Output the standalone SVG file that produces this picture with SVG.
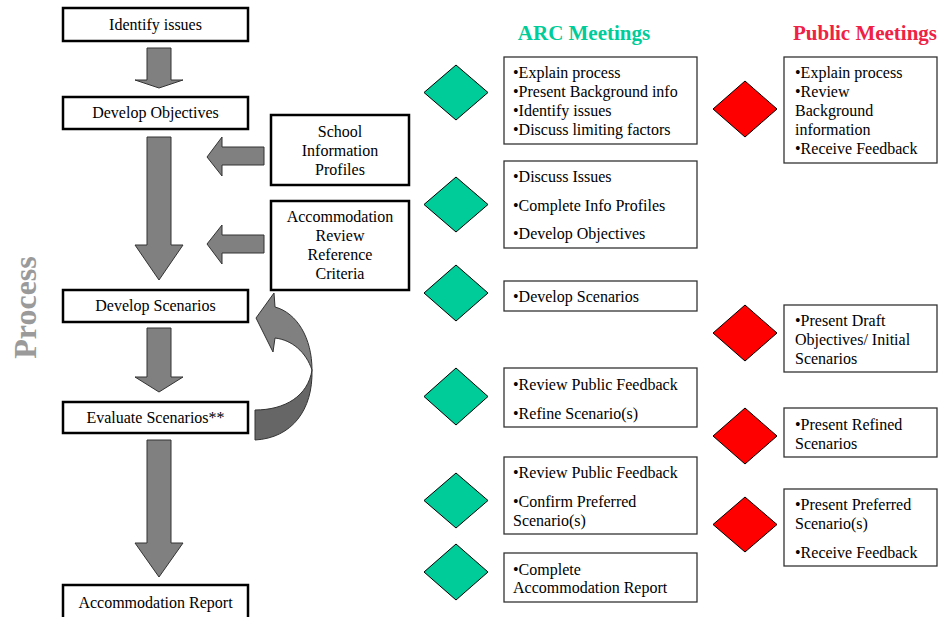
<svg xmlns="http://www.w3.org/2000/svg" width="939" height="617" viewBox="0 0 939 617">
<style>
text{font-family:"Liberation Serif","Times New Roman",serif;font-size:16px;fill:#000}
.c{text-anchor:middle}
.step{fill:#fff;stroke:#000;stroke-width:2.5}
.info{fill:#fff;stroke:#333;stroke-width:1.3}
.arrow{fill:#808080;stroke:#333;stroke-width:1}
.g{fill:#00CC99;stroke:#000;stroke-width:1}
.r{fill:#FF0000;stroke:#000;stroke-width:1}
.title{font-size:21px;font-weight:bold}
</style>
<rect width="939" height="617" fill="#fff"/>

<text transform="translate(36,307.5) rotate(-90)" class="c" style="font-size:32px;font-weight:bold;fill:#9a9a9a">Process</text>

<g id="connectors">
  <path class="arrow" d="M147,48 H171 V80 H183 L159,88 L135,80 H147 Z"/>
  <path class="arrow" d="M147,137 H171 V245 H183 L159,280 L135,245 H147 Z"/>
  <path class="arrow" d="M147,328 H171 V377 H183 L159,392 L135,377 H147 Z"/>
  <path class="arrow" d="M147,440 H171 V543 H183 L159,577 L135,543 H147 Z"/>
  <path class="arrow" d="M264,147 V165 H222 V176 L207,157 L222,137 V147 Z"/>
  <path class="arrow" d="M264,235 V253 H222 V264 L207,244 L222,225 V235 Z"/>
  <path fill="#808080" stroke="#333" stroke-width="1" d="M256,318 L274,293 L275,307 C297,313 312,338 312,370 C306,352 292,340 275,338 L273,352 Z"/>
  <path fill="#666" stroke="#333" stroke-width="1" d="M312,370 C313,410 292,438 255,440 L255,410 C285,410 308,396 312,370 Z"/>
</g>

<g id="identify-issues"><rect class="step" x="63" y="8" width="185" height="33"/><text class="c" x="155.5" y="30">Identify issues</text></g>
<g id="develop-objectives"><rect class="step" x="63" y="97" width="185" height="32"/><text class="c" x="155.5" y="118">Develop Objectives</text></g>
<g id="develop-scenarios"><rect class="step" x="63" y="290" width="185" height="32"/><text class="c" x="155.5" y="311">Develop Scenarios</text></g>
<g id="evaluate-scenarios"><rect class="step" x="63" y="402" width="185" height="31"/><text class="c" x="155.5" y="423">Evaluate Scenarios**</text></g>
<g id="accommodation-report"><rect class="step" x="63" y="585" width="185" height="34"/><text class="c" x="155.5" y="608">Accommodation Report</text></g>

<g id="school-info"><rect class="step" x="271" y="115" width="138" height="70"/>
<text class="c" x="340" y="137">School</text><text class="c" x="340" y="156">Information</text><text class="c" x="340" y="175">Profiles</text></g>
<g id="review-criteria"><rect class="step" x="271" y="201" width="138" height="89"/>
<text class="c" x="340" y="222">Accommodation</text><text class="c" x="340" y="241">Review</text><text class="c" x="340" y="260">Reference</text><text class="c" x="340" y="279">Criteria</text></g>

<text class="c title" x="584" y="40" style="fill:#00CC99">ARC Meetings</text>
<text class="c title" x="865" y="40" style="fill:#EE2244">Public Meetings</text>

<g id="arc1"><path class="g" d="M456,65 L488,92.5 L456,120 L424,92.5 Z"/><rect class="info" x="504" y="57" width="193" height="87"/>
<text x="513" y="78">•Explain process</text><text x="513" y="97">•Present Background info</text><text x="513" y="116">•Identify issues</text><text x="513" y="135">•Discuss limiting factors</text></g>
<g id="arc2"><path class="g" d="M456,177 L488,204.5 L456,232 L424,204.5 Z"/><rect class="info" x="504" y="161" width="193" height="87"/>
<text x="513" y="182">•Discuss Issues</text><text x="513" y="211">•Complete Info Profiles</text><text x="513" y="239">•Develop Objectives</text></g>
<g id="arc3"><path class="g" d="M456,265 L488,293 L456,321 L424,293 Z"/><rect class="info" x="504" y="281" width="193" height="30"/>
<text x="513" y="302">•Develop Scenarios</text></g>
<g id="arc4"><path class="g" d="M456,368 L488,396.5 L456,425 L424,396.5 Z"/><rect class="info" x="504" y="368" width="193" height="59"/>
<text x="513" y="390">•Review Public Feedback</text><text x="513" y="419">•Refine Scenario(s)</text></g>
<g id="arc5"><path class="g" d="M456,473 L488,500.5 L456,528 L424,500.5 Z"/><rect class="info" x="504" y="457" width="193" height="77"/>
<text x="513" y="478">•Review Public Feedback</text><text x="513" y="507">•Confirm Preferred</text><text x="513" y="526">Scenario(s)</text></g>
<g id="arc6"><path class="g" d="M456,544 L488,572 L456,600 L424,572 Z"/><rect class="info" x="504" y="553" width="193" height="49"/>
<text x="513" y="575">•Complete</text><text x="513" y="593">Accommodation Report</text></g>

<g id="pub1"><path class="r" d="M745,81 L777,109 L745,137 L713,109 Z"/><rect class="info" x="784" y="57" width="153" height="106"/>
<text x="795" y="78">•Explain process</text><text x="795" y="97">•Review</text><text x="795" y="116">Background</text><text x="795" y="135">information</text><text x="795" y="154">•Receive Feedback</text></g>
<g id="pub2"><path class="r" d="M745,305 L777,333 L745,361 L713,333 Z"/><rect class="info" x="784" y="305" width="153" height="67"/>
<text x="795" y="326">•Present Draft</text><text x="795" y="345">Objectives/ Initial</text><text x="795" y="364">Scenarios</text></g>
<g id="pub3"><path class="r" d="M745,408 L777,436 L745,464 L713,436 Z"/><rect class="info" x="784" y="408" width="153" height="49"/>
<text x="795" y="430">•Present Refined</text><text x="795" y="449">Scenarios</text></g>
<g id="pub4"><path class="r" d="M745,497 L777,524.5 L745,552 L713,524.5 Z"/><rect class="info" x="784" y="489" width="153" height="77"/>
<text x="795" y="510">•Present Preferred</text><text x="795" y="529">Scenario(s)</text><text x="795" y="558">•Receive Feedback</text></g>
</svg>
